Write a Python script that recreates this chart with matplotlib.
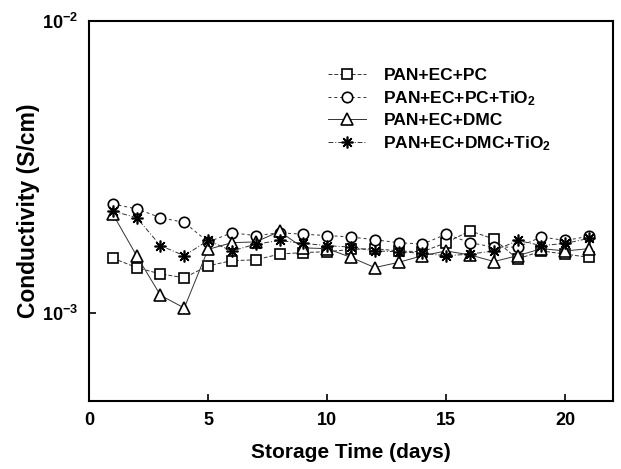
import numpy as np
import matplotlib.pyplot as plt

plt.rcParams['font.family'] = 'Liberation Sans'
plt.rcParams['font.weight'] = 'bold'
plt.rcParams['mathtext.fontset'] = 'custom'
plt.rcParams['mathtext.rm'] = 'Liberation Sans:bold'
plt.rcParams['mathtext.bf'] = 'Liberation Sans:bold'
plt.rcParams['mathtext.it'] = 'Liberation Sans:bold'

days = np.arange(1, 22)

# conductivity (S/cm)
pan_ec_pc = [1.54e-3, 1.43e-3, 1.36e-3, 1.32e-3, 1.45e-3, 1.51e-3, 1.52e-3, 1.59e-3,
             1.61e-3, 1.62e-3, 1.65e-3, 1.66e-3, 1.63e-3, 1.62e-3, 1.74e-3, 1.91e-3,
             1.79e-3, 1.53e-3, 1.63e-3, 1.59e-3, 1.55e-3]
pan_ec_pc_tio2 = [2.36e-3, 2.27e-3, 2.12e-3, 2.04e-3, 1.75e-3, 1.88e-3, 1.84e-3, 1.88e-3,
                  1.86e-3, 1.84e-3, 1.82e-3, 1.78e-3, 1.74e-3, 1.72e-3, 1.86e-3, 1.74e-3,
                  1.68e-3, 1.68e-3, 1.82e-3, 1.77e-3, 1.83e-3]
pan_ec_dmc = [2.18e-3, 1.57e-3, 1.15e-3, 1.04e-3, 1.65e-3, 1.74e-3, 1.75e-3, 1.90e-3,
              1.67e-3, 1.66e-3, 1.55e-3, 1.43e-3, 1.49e-3, 1.57e-3, 1.63e-3, 1.58e-3,
              1.50e-3, 1.57e-3, 1.66e-3, 1.63e-3, 1.66e-3]
pan_ec_dmc_tio2 = [2.23e-3, 2.12e-3, 1.70e-3, 1.57e-3, 1.77e-3, 1.63e-3, 1.72e-3, 1.77e-3,
                   1.73e-3, 1.70e-3, 1.68e-3, 1.63e-3, 1.62e-3, 1.60e-3, 1.57e-3, 1.59e-3,
                   1.63e-3, 1.77e-3, 1.70e-3, 1.73e-3, 1.80e-3]

labels = ['PAN+EC+PC', 'PAN+EC+PC+TiO$_2$', 'PAN+EC+DMC', 'PAN+EC+DMC+TiO$_2$']

fig = plt.figure(figsize=(6.21, 4.69), dpi=100)
ax = fig.add_axes([0.1433, 0.145, 0.8437, 0.811])

series = [pan_ec_pc, pan_ec_pc_tio2, pan_ec_dmc, pan_ec_dmc_tio2]
markers = ['s', 'o', '^', (8, 2, 0)]
styles = [(0, (4, 2)), (0, (3, 3)), '-', (0, (5, 2, 1, 2))]
sizes = [6.5, 7.5, 8, 8.5]
for y, m, ls, lab, ms in zip(series, markers, styles, labels, sizes):
    ax.plot(days, y, linestyle=ls, color='#333333', lw=0.7, marker=m, ms=ms,
            mfc='white', mec='black', mew=1.2, label=lab)

ax.set_yscale('log')
ax.set_xlim(0, 22)
ax.set_ylim(5e-4, 1e-2)
ax.set_xticks([0, 5, 10, 15, 20])
ax.set_yticks([1e-3, 1e-2])
ax.set_yticklabels(['$10^{-3}$', '$10^{-2}$'])
ax.yaxis.set_minor_locator(plt.NullLocator())
ax.tick_params(direction='in', length=5, width=1.2, labelsize=13, pad=8)
for s in ax.spines.values():
    s.set_linewidth(1.5)

ax.set_xlabel('Storage Time (days)', fontsize=15, fontweight='bold', labelpad=10)
ax.set_ylabel('Conductivity (S/cm)', fontsize=16.5, fontweight='bold', labelpad=1)

ax.legend(loc='upper left', bbox_to_anchor=(0.456, 0.875), frameon=False,
          borderpad=0, borderaxespad=0,
          fontsize=12.5, handlelength=2.2, labelspacing=0.32, handletextpad=1.0)

fig.savefig('out.png', dpi=100)
